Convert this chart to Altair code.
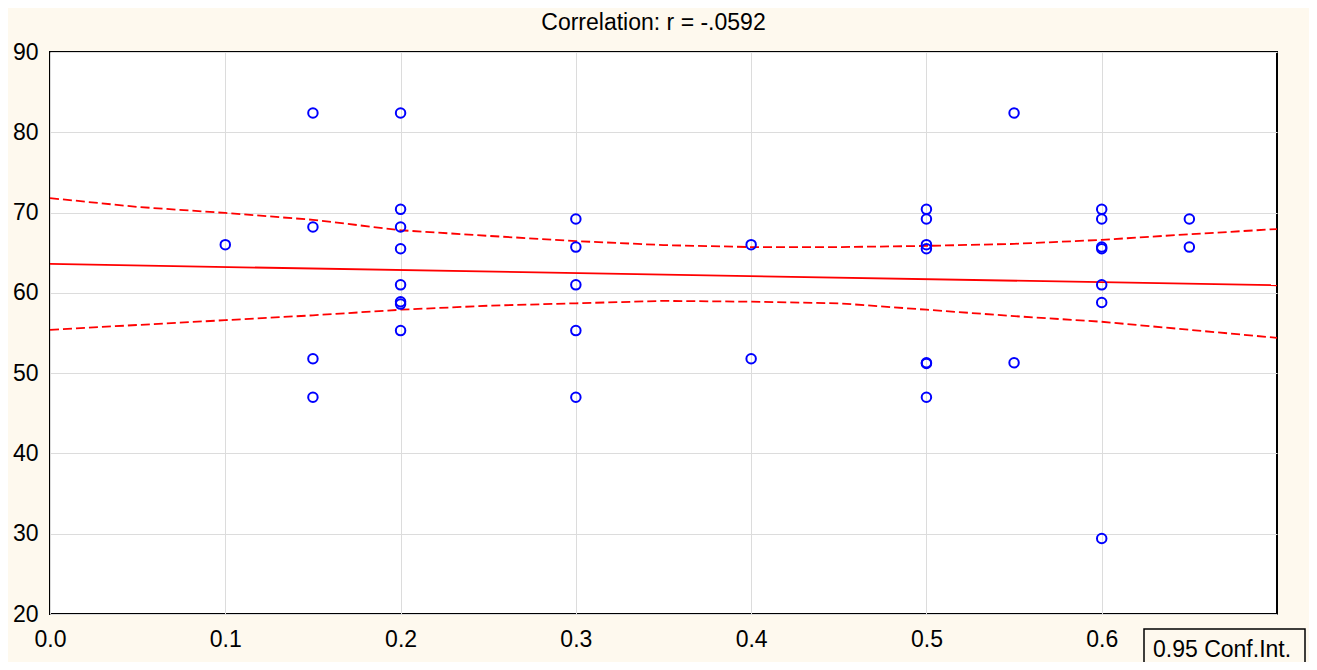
import altair as alt
import pandas as pd

# Scatter points (x, y)
pt_x = [0.1,
        0.15, 0.15, 0.15, 0.15,
        0.2, 0.2, 0.2, 0.2, 0.2, 0.2, 0.2, 0.2,
        0.3, 0.3, 0.3, 0.3, 0.3,
        0.4, 0.4,
        0.5, 0.5, 0.5, 0.5, 0.5, 0.5, 0.5,
        0.55, 0.55,
        0.6, 0.6, 0.6, 0.6, 0.6, 0.6, 0.6,
        0.65, 0.65]
pt_y = [66.0,
        82.4, 68.2, 51.8, 47.0,
        82.4, 70.4, 68.2, 65.5, 61.0, 58.9, 58.6, 55.3,
        69.2, 65.7, 61.0, 55.3, 47.0,
        66.0, 51.8,
        70.4, 69.2, 66.0, 65.5, 51.3, 51.2, 47.0,
        82.4, 51.3,
        70.4, 69.2, 65.7, 65.5, 61.0, 58.8, 29.4,
        69.2, 65.7]

# Regression line
fit_x = [0.0, 0.7]
fit_y = [63.6, 60.95]

# 0.95 confidence band
ci_x = [0.0, 0.05, 0.1, 0.15, 0.2, 0.25, 0.3, 0.35, 0.4, 0.45, 0.5, 0.55, 0.6, 0.65, 0.7]
ci_upper = [71.8, 70.7, 69.95, 69.1, 67.8, 67.1, 66.45, 65.95, 65.7, 65.7, 65.85, 66.1, 66.6, 67.3, 67.95]
ci_lower = [55.4, 56.0, 56.6, 57.2, 57.9, 58.4, 58.7, 59.0, 58.9, 58.7, 57.9, 57.1, 56.4, 55.4, 54.4]

x_ticks = [0.0, 0.1, 0.2, 0.3, 0.4, 0.5, 0.6]
y_ticks = [20, 30, 40, 50, 60, 70, 80, 90]
title_text = "Correlation: r = -.0592"
legend_text = ["0.95 Conf.Int."]

FONT = "Liberation Sans, Arial, sans-serif"
BG = "#FEF9EE"

pts = pd.DataFrame({"x": pt_x, "y": pt_y})
fit = pd.DataFrame({"x": fit_x, "y": fit_y})
ci = pd.concat([
    pd.DataFrame({"x": ci_x, "y": ci_upper, "band": "upper"}),
    pd.DataFrame({"x": ci_x, "y": ci_lower, "band": "lower"}),
])
leg = pd.DataFrame({"label": legend_text})

xscale = alt.Scale(domain=[0, 0.7], nice=False, zero=False)
yscale = alt.Scale(domain=[20, 90], nice=False, zero=False)

xaxis = alt.Axis(values=x_ticks, format=".1f", title=None, ticks=False, domain=False,
                 grid=True, gridColor="#DCDCDC", gridWidth=1,
                 labelFont=FONT, labelFontSize=23, labelColor="black",
                 labelPadding=14, labelFlush=False, labelOverlap=False)
yaxis = alt.Axis(values=y_ticks, title=None, ticks=False, domain=False,
                 grid=True, gridColor="#DCDCDC", gridWidth=1,
                 labelFont=FONT, labelFontSize=23, labelColor="black",
                 labelPadding=12, labelFlush=False, labelOverlap=False)

points = alt.Chart(pts).mark_point(
    shape="circle", filled=False, color="#0000FF", opacity=1, size=90, strokeWidth=2
).encode(
    x=alt.X("x:Q", scale=xscale, axis=xaxis),
    y=alt.Y("y:Q", scale=yscale, axis=yaxis),
)

fit_line = alt.Chart(fit).mark_line(color="#FF0000", strokeWidth=1.8).encode(
    x=alt.X("x:Q", scale=xscale),
    y=alt.Y("y:Q", scale=yscale),
)

ci_lines = alt.Chart(ci).mark_line(color="#FF0000", strokeWidth=1.8, strokeDash=[9, 4]).encode(
    x=alt.X("x:Q", scale=xscale),
    y=alt.Y("y:Q", scale=yscale),
    detail="band:N",
)

leg_box = alt.Chart(leg).mark_rect(fill=BG, stroke="black", strokeWidth=1.5).encode(
    x=alt.value(1094), x2=alt.value(1255),
    y=alt.value(577), y2=alt.value(640),
)
leg_text = alt.Chart(leg).mark_text(
    font=FONT, fontSize=23, color="black", align="left", baseline="middle"
).encode(
    x=alt.value(1103), y=alt.value(598), text="label:N"
)

chart = alt.layer(ci_lines, fit_line, points, leg_box, leg_text).properties(
    width=1227,
    height=562,
    title=alt.TitleParams(title_text, font=FONT, fontSize=23, fontWeight="normal",
                          color="black", anchor="middle", offset=6, dx=-10),
    background=BG,
    padding={"left": 42, "top": 44, "right": 32, "bottom": 48},
    autosize=alt.AutoSizeParams(type="none"),
).configure_view(
    stroke="black", strokeWidth=2, fill="white"
)

chart.save("out.html", embed_options={"renderer": "svg", "actions": False})
